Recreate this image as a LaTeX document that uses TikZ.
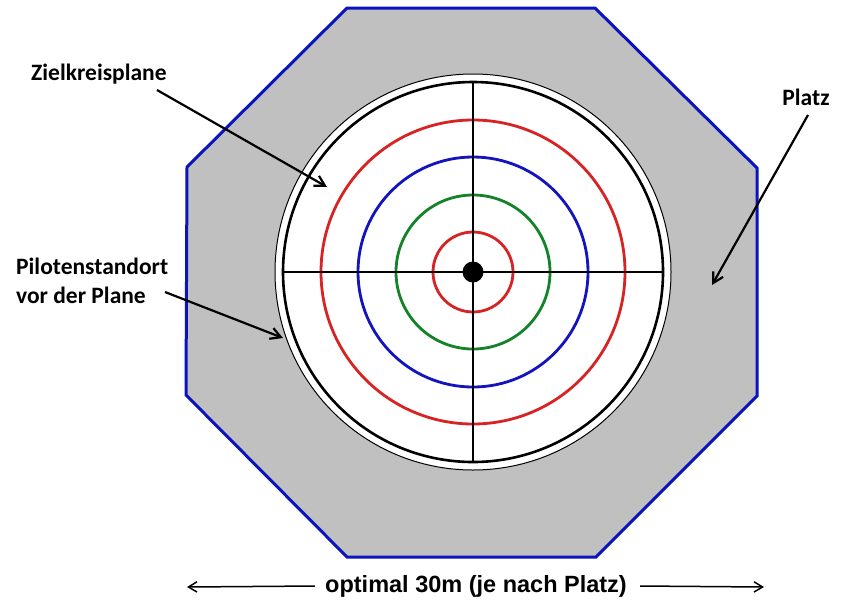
\documentclass[tikz,border=0pt]{standalone}
\usepackage{fontspec}
\setmainfont{Carlito}
\newfontfamily\arialfont{Liberation Sans}
\usetikzlibrary{arrows.meta,positioning}

\definecolor{platzgrau}{RGB}{192,192,192}
\definecolor{randblau}{RGB}{10,20,190}
\definecolor{ringrot}{RGB}{215,35,35}
\definecolor{ringblau}{RGB}{20,20,190}
\definecolor{ringgruen}{RGB}{20,130,40}

\begin{document}
\begin{tikzpicture}[x=1pt,y=-1pt,
  lbl/.style={font=\fontsize{23.5}{29}\selectfont\bfseries,inner sep=0pt,align=left},
  arr/.style={-{Straight Barb[length=3.6mm,width=4mm]},line width=2.2pt},
  mass/.style={-{Straight Barb[length=3mm,width=3.6mm]},line width=1.5pt},
  ring/.style={line width=2.8pt}]
  \useasboundingbox (0,0) rectangle (850,611);
  % Platz
  \draw[fill=platzgrau,draw=randblau,line width=3pt]
    (347,8)--(595,8)--(757,168)--(757,396)--(596,557)--(347,557)--(186,395)--(187,167)--cycle;
  % Zielkreisplane
  \coordinate (m) at (473,272);
  \draw[fill=white,line width=1pt] (m) circle[radius=198];
  \draw[line width=2.6pt] (m) circle[radius=190];
  \draw[ring,ringrot] (m) circle[radius=152];
  \draw[ring,ringblau] (m) circle[radius=115];
  \draw[ring,ringgruen] (m) circle[radius=77];
  \draw[ring,ringrot] (m) circle[radius=40];
  \draw[line width=2.2pt] ([xshift=-190]m)--([xshift=190]m) ([yshift=-190]m)--([yshift=190]m);
  \fill (m) circle[radius=10.5];
  % Beschriftungen
  \node[lbl,anchor=west] (zk) at (31,74) {Zielkreisplane};
  \node[lbl,anchor=north west] (pilot) at (16,258) {Pilotenstandort\\vor der Plane};
  \node[lbl] (platz) at (806,97) {Platz};
  \node[font=\arialfont\fontsize{23.5}{28}\selectfont\bfseries,inner sep=0pt] (weite) at (476,586) {optimal 30m (je nach Platz)};
  \coordinate (zk-a) at (157,90);  \coordinate (zk-e) at (327,187);
  \coordinate (pi-a) at (165,292); \coordinate (pi-e) at (283,338);
  \coordinate (pl-a) at (808,115); \coordinate (pl-e) at (712,285);
  \coordinate (li) at (187,587);   \coordinate (re) at (764,587);
  \draw[arr] (zk-a)--(zk-e);
  \draw[arr] (pi-a)--(pi-e);
  \draw[arr] (pl-a)--(pl-e);
  \draw[mass] ([xshift=-10]weite.west)--(li);
  \draw[mass] ([xshift=13]weite.east)--(re);
\end{tikzpicture}
\end{document}
